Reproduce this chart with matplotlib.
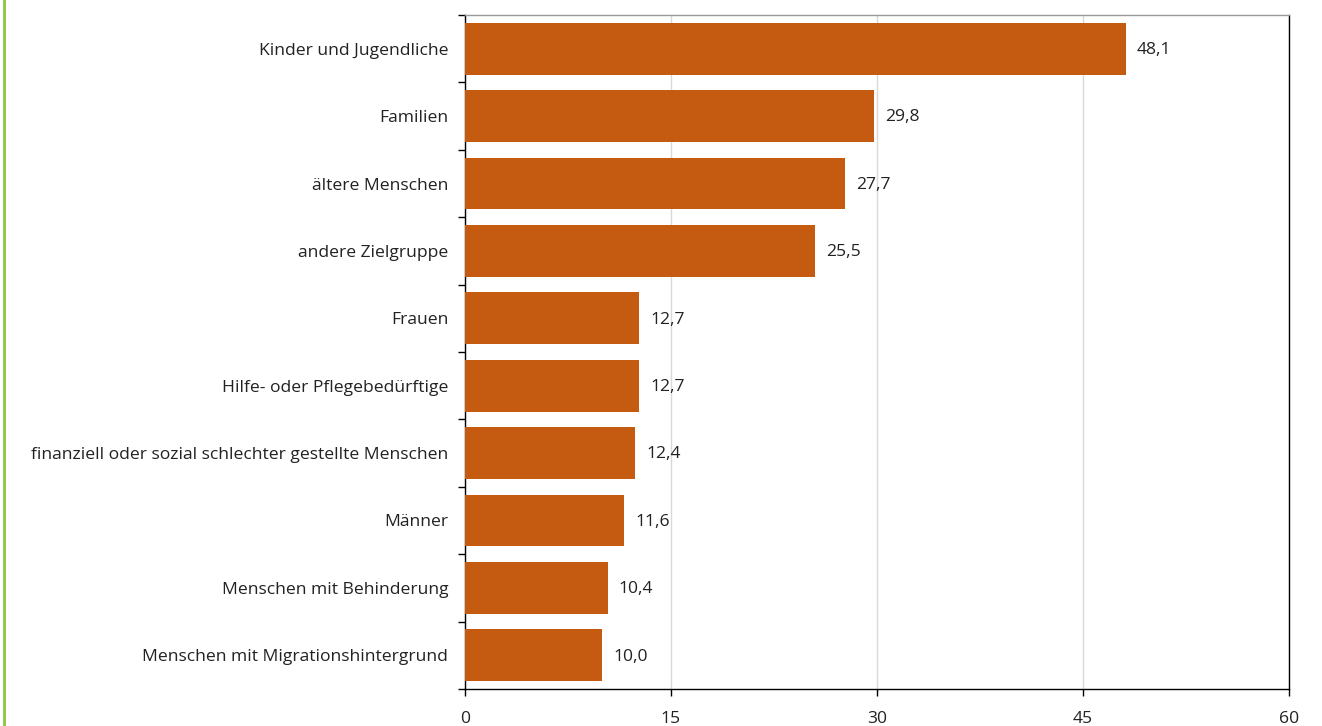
import matplotlib.pyplot as plt
from matplotlib.lines import Line2D

categories = [
    "Kinder und Jugendliche",
    "Familien",
    "ältere Menschen",
    "andere Zielgruppe",
    "Frauen",
    "Hilfe- oder Pflegebedürftige",
    "finanziell oder sozial schlechter gestellte Menschen",
    "Männer",
    "Menschen mit Behinderung",
    "Menschen mit Migrationshintergrund",
]
values = [48.1, 29.8, 27.7, 25.5, 12.7, 12.7, 12.4, 11.6, 10.4, 10.0]
x_ticks = [0, 15, 30, 45, 60]

plt.rcParams["font.family"] = ["Open Sans", "DejaVu Sans"]

fig = plt.figure(figsize=(13.22, 7.26), dpi=100)
ax = fig.add_axes([465 / 1322, 1 - 689 / 726, (1289 - 465) / 1322, (689 - 15) / 726])

n = len(categories)
ypos = list(range(n))
ax.barh(ypos, values, height=0.77, color="#C55A11", zorder=3)

for y, v in zip(ypos, values):
    ax.annotate(f"{v:.1f}".replace(".", ","), (v, y), xytext=(8, -1),
                textcoords="offset points", va="center", ha="left",
                fontsize=12.6, color="#222222")

ax.set_xlim(0, 60)
ax.set_ylim(n - 0.5, -0.5)
ax.set_xticks(x_ticks)
ax.set_xticklabels([str(t) for t in x_ticks], fontsize=12.6, color="#222222")
ax.tick_params(axis="x", length=5, width=1, pad=11, direction="out")

# category labels centered on bars, ticks at category boundaries
ax.set_yticks(ypos)
ax.set_yticklabels(categories, fontsize=12.6, color="#222222")
ax.tick_params(axis="y", which="major", length=0, pad=12)
ax.set_yticks([i - 0.5 for i in range(n + 1)], minor=True)
ax.tick_params(axis="y", which="minor", length=5, width=1, direction="out")

ax.grid(axis="x", color="#d9d9d9", linewidth=1, zorder=0)
ax.set_axisbelow(True)

for side in ["left", "bottom", "right"]:
    ax.spines[side].set_color("black")
    ax.spines[side].set_linewidth(1)
ax.spines["top"].set_color("#999999")
ax.spines["top"].set_linewidth(1)

fig.add_artist(Line2D([3.5 / 1322, 3.5 / 1322], [0, 1], color="#8DC63F",
                      linewidth=2, transform=fig.transFigure))

fig.savefig("out.png", dpi=100)
